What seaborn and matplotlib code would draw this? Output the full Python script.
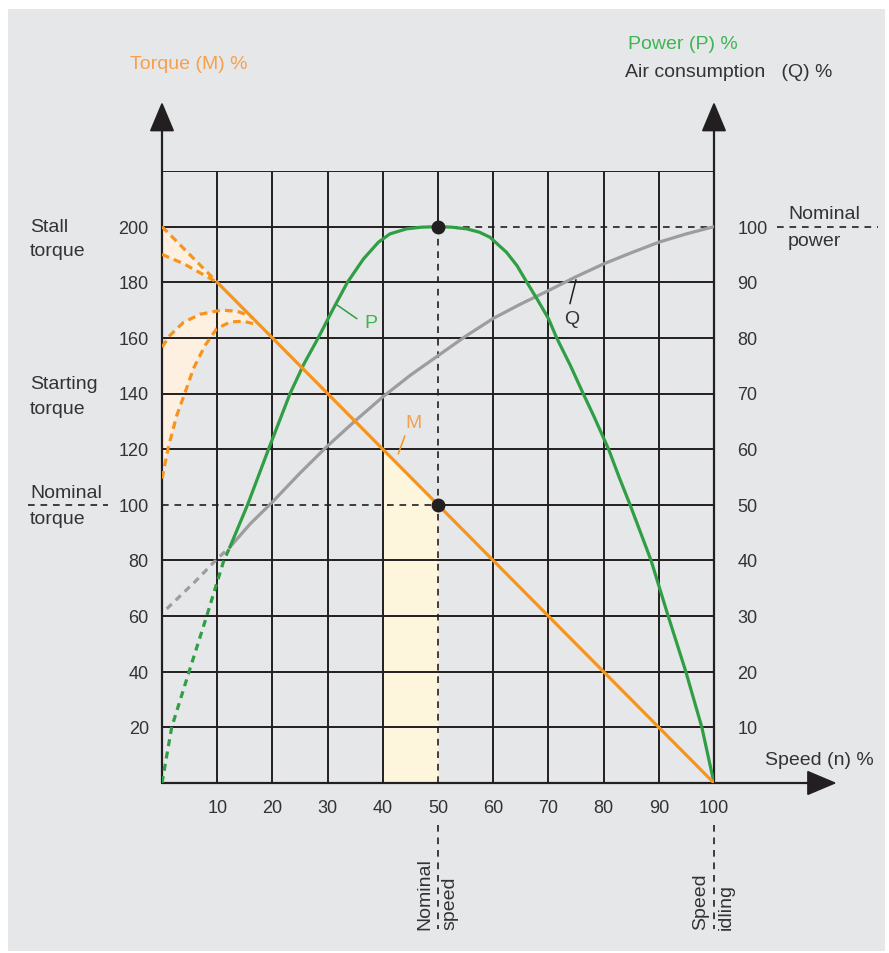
import numpy as np
import pandas as pd
import matplotlib
matplotlib.use('Agg')
import matplotlib.pyplot as plt
from matplotlib.patches import Polygon, Rectangle
import seaborn as sns

# values (speed %, curve value %)
p_dash_speed = [0, 1.75, 4.9, 8.1, 11.2, 12.3]
p_dash_power = [0, 10, 20, 30, 40, 42.4]
p_speed = [12.3, 14.7, 15.5, 19.3, 23.2, 25.7, 28.3, 31, 33.6, 36.5, 39.2, 41.3, 44.3,
           47, 50, 52.5, 55.2, 57.5, 59.4, 62.4, 64.3, 66.1, 68, 70, 71.5, 74, 76.3,
           78.2, 80.9, 82.8, 84.8, 86.7, 88.6, 91.7, 94.9, 97.8, 100]
p_power = [42.4, 48.1, 50, 60, 70, 75.3, 80, 85.2, 90, 94.2, 97.2, 98.7, 99.6,
           99.9, 100, 99.9, 99.6, 99, 98.1, 95.4, 93, 90, 86.9, 83.5, 80, 75, 70,
           66, 60, 55, 50, 45, 40, 30, 20, 10, 0]

q_dash_speed = [0.85, 6, 10, 12.3]
q_dash_air = [31.3, 36.2, 40.3, 42.4]
q_speed = [12.3, 16, 20, 25, 30, 35, 40, 45, 50, 55, 60, 65, 70, 75, 80, 85, 90, 95, 100]
q_air = [42.4, 46.6, 50.5, 55.7, 60.6, 65.1, 69.4, 73.3, 76.8, 80.3, 83.5, 86.1, 88.5,
         91, 93.3, 95.3, 97.2, 98.7, 100]

m_speed = [0, 10, 100]
m_torque = [200, 180, 0]

stall_low_speed = [0, 3.9, 10]
stall_low_torque = [190, 186.7, 180]
start_hi_speed = [0, 1.45, 3.9, 6.9, 10.8, 13.5, 15.9, 16.5]
start_hi_torque = [156.7, 160.9, 165.6, 168.5, 170, 169.6, 168, 167]
start_lo_speed = [0, 1.15, 2.65, 4.2, 5.7, 7.8, 9.9, 12.3, 14.7, 16.8]
start_lo_torque = [109.4, 120.7, 132, 140.5, 149, 157.3, 163.3, 165.7, 166, 165]

speed_ticks = [10, 20, 30, 40, 50, 60, 70, 80, 90, 100]
torque_ticks = [20, 40, 60, 80, 100, 120, 140, 160, 180, 200]
power_ticks = [10, 20, 30, 40, 50, 60, 70, 80, 90, 100]
nominal_speed = 50

sns.set_theme(style='white')
plt.rcParams['font.family'] = ['Liberation Sans', 'DejaVu Sans']

ORANGE = '#f7941d'
ORANGE_TXT = '#f6a04d'
GREEN = '#2f9e44'
GREEN_TXT = '#3db552'
GREY = '#9d9d9d'
INK = '#231f20'
TXT = '#333333'
BG = '#e6e7e8'

W, H = 889, 954
fig = plt.figure(figsize=(W / 100, H / 100), dpi=100, facecolor='white')
fig.patches.append(Rectangle((8 / W, 2 / H), 877 / W, 942 / H, transform=fig.transFigure,
                             facecolor=BG, edgecolor='none', zorder=-5))

# plot region: speed 0-100 -> px 162-714, torque 0-220 -> px 784-172
ax = fig.add_axes([162 / W, (H - 784) / H, 552 / W, 612 / H])
ax.set_xlim(0, 100)
ax.set_ylim(0, 220)
ax.axis('off')
ax.patch.set_alpha(0)

# shaded areas
ax.fill_between([40, nominal_speed], [120, 100], 0, color='#fdf6dc', lw=0, zorder=1)
ax.fill(stall_low_speed + [0], stall_low_torque + [200], color='#fdf0e0', lw=0, zorder=1)
ax.fill(start_hi_speed + start_lo_speed[::-1], start_hi_torque + start_lo_torque[::-1],
        color='#fdf0e0', lw=0, zorder=1)

# grid
glw = 1.4
for s in speed_ticks[:-1]:
    if s == nominal_speed:
        ax.plot([s, s], [200, 220], color=INK, lw=glw, zorder=2)
        ax.plot([s, s], [0, 200], color=INK, lw=1.2, ls=(0, (4, 3.5)), zorder=2)
    else:
        ax.plot([s, s], [0, 220], color=INK, lw=glw, zorder=2)
for t in torque_ticks + [220]:
    if t == 100:
        ax.plot([0, 50], [t, t], color=INK, lw=1.2, ls=(0, (4, 3.5)), zorder=2)
        ax.plot([50, 100], [t, t], color=INK, lw=glw, zorder=2)
    elif t == 200:
        ax.plot([0, 50], [t, t], color=INK, lw=glw, zorder=2)
        ax.plot([50, 100], [t, t], color=INK, lw=1.2, ls=(0, (4, 3.5)), zorder=2)
    else:
        ax.plot([0, 100], [t, t], color=INK, lw=glw, zorder=2)

# outside dashed marker lines
dash_kw = dict(color=INK, lw=1.2, ls=(0, (4, 3.5)), clip_on=False, zorder=2)
ax.plot([-24.3, -9.8], [100, 100], **dash_kw)
ax.plot([111.4, 129.7], [200, 200], **dash_kw)
ax.plot([50, 50], [-15.1, -52.5], **dash_kw)
ax.plot([100, 100], [-15.1, -52.5], **dash_kw)

# axes with arrows
ax.plot([0, 0], [0, 236], color=INK, lw=1.6, clip_on=False, zorder=3)
ax.plot([100, 100], [0, 236], color=INK, lw=1.6, clip_on=False, zorder=3)
ax.plot([0, 118], [0, 0], color=INK, lw=1.6, clip_on=False, zorder=3)
for xs in (0, 100):
    ax.add_patch(Polygon([[xs - 2.05, 234.5], [xs + 2.05, 234.5], [xs, 244.2]],
                         closed=True, color=INK, clip_on=False, zorder=3))
ax.add_patch(Polygon([[117, -4.1], [117, 4.1], [121.9, 0]], closed=True, color=INK,
                     clip_on=False, zorder=3))

# curves (power and air consumption plotted on the 0-200 torque scale)
lw = 2.3
sns.lineplot(x=p_dash_speed, y=np.array(p_dash_power) * 2, ax=ax, color=GREEN, lw=lw,
             ls=(0, (2.2, 1.7)), zorder=4)
sns.lineplot(x=p_speed, y=np.array(p_power) * 2, ax=ax, color=GREEN, lw=lw, zorder=5)
sns.lineplot(x=q_dash_speed, y=np.array(q_dash_air) * 2, ax=ax, color=GREY, lw=lw,
             ls=(0, (2.2, 1.7)), zorder=4)
sns.lineplot(x=q_speed, y=np.array(q_air) * 2, ax=ax, color=GREY, lw=lw, zorder=4)

sns.lineplot(x=m_speed[:2], y=m_torque[:2], ax=ax, color=ORANGE, lw=lw,
             ls=(0, (2.4, 1.6)), zorder=4)
sns.lineplot(x=m_speed[1:], y=m_torque[1:], ax=ax, color=ORANGE, lw=lw, zorder=5)
for xs, ys in [(stall_low_speed, stall_low_torque), (start_hi_speed, start_hi_torque),
               (start_lo_speed, start_lo_torque)]:
    sns.lineplot(x=xs, y=ys, ax=ax, color=ORANGE, lw=lw, ls=(0, (2.4, 1.6)), zorder=4,
                 sort=False)

ax.plot([nominal_speed, nominal_speed], [200, 100], 'o', color=INK, ms=9, zorder=6,
        clip_on=False)
ax.set_xlim(0, 100)
ax.set_ylim(0, 220)
ax.set_xlabel('')
ax.set_ylabel('')

# ticks
fs = 13
for t in torque_ticks:
    ax.text(-2.4, t - 0.5, str(t), ha='right', va='center', fontsize=fs, color=TXT)
for p in power_ticks:
    ax.text(104.2, p * 2 - 0.5, str(p), ha='left', va='center', fontsize=fs, color=TXT)
for s in speed_ticks:
    ax.text(s, -8.8, str(s), ha='center', va='center', fontsize=fs, color=TXT)

# labels
lf = 14
ax.text(-5.8, 258.7, 'Torque (M) %', ha='left', va='center', fontsize=lf, color=ORANGE_TXT)
ax.text(84.4, 265.9, 'Power (P) %', ha='left', va='center', fontsize=lf, color=GREEN_TXT)
ax.text(83.9, 255.8, 'Air consumption   (Q) %', ha='left', va='center', fontsize=lf,
        color=TXT)
ax.text(109.2, 8.4, 'Speed (n) %', ha='left', va='center', fontsize=lf, color=TXT)
for label, y in [('Stall', 200), ('torque', 191.4), ('Starting', 143.5), ('torque', 134.6),
                 ('Nominal', 104.3), ('torque', 95)]:
    ax.text(-23.9, y, label, ha='left', va='center', fontsize=lf, color=TXT)
ax.text(113.4, 204.7, 'Nominal', ha='left', va='center', fontsize=lf, color=TXT)
ax.text(113.4, 195, 'power', ha='left', va='center', fontsize=lf, color=TXT)

for x, label in [(47.6, 'Nominal'), (52.2, 'speed'), (97.5, 'Speed'), (102.2, 'idling')]:
    ax.text(x, -52.5, label, rotation=90, ha='center', va='bottom', fontsize=lf, color=TXT)

# curve call-outs
ax.plot([31.6, 35.3], [172, 166.9], color=GREEN, lw=1.1, zorder=5)
ax.text(36.6, 165.5, 'P', ha='left', va='center', fontsize=lf, color=GREEN_TXT)
ax.plot([75, 73.9], [180.9, 172.3], color=INK, lw=1.1, zorder=5)
ax.text(74.3, 166.8, 'Q', ha='center', va='center', fontsize=lf, color=TXT)
ax.plot([42.8, 44], [118.3, 124.8], color=ORANGE, lw=1.1, zorder=5)
ax.text(45.5, 129.6, 'M', ha='center', va='center', fontsize=lf, color=ORANGE_TXT)

fig.savefig('out.png', dpi=100, facecolor='white')
